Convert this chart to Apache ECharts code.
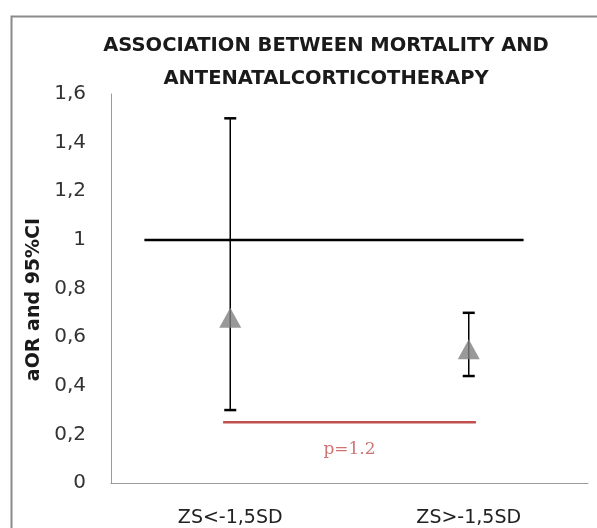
<!DOCTYPE html>
<html>
<head>
<meta charset="utf-8">
<script src="https://cdn.jsdelivr.net/npm/echarts@6/dist/echarts.min.js"></script>
<style>html,body{margin:0;padding:0;background:#fff}#c{width:597px;height:528px}</style>
</head>
<body>
<div id="c"></div>
<script>
// ---- data ----
const categories = ['ZS<-1,5SD', 'ZS>-1,5SD'];
const aOR = [0.68, 0.55];
const ciLow = [0.30, 0.44];
const ciHigh = [1.50, 0.70];
const yTicks = [0, 0.2, 0.4, 0.6, 0.8, 1, 1.2, 1.4, 1.6];
const refLineY = 1;
const refLineX = [-0.36, 1.23];
const pLineY = 0.25;
const pLineX = [-0.03, 1.03];
const pLabel = 'p=1.2';

const chart = echarts.init(document.getElementById('c'));
const FONT = 'DejaVu Sans';

chart.setOption({
  animation: false,
  backgroundColor: '#fff',
  title: {
    text: 'ASSOCIATION BETWEEN MORTALITY AND\nANTENATALCORTICOTHERAPY',
    left: 321, top: 24, textAlign: 'center',
    textStyle: { fontFamily: FONT, fontWeight: 'bold', fontSize: 19.5, lineHeight: 33, color: '#1a1a1a' }
  },
  graphic: [{
    type: 'rect', left: 9, top: 14, shape: { width: 620, height: 600 },
    style: { fill: 'none', stroke: '#8a8a8a', lineWidth: 2 }, silent: true, z: -1
  }],
  grid: { left: 111, right: 9, top: 94, bottom: 45 },
  xAxis: [{
    type: 'category', data: categories, boundaryGap: true,
    axisLine: { lineStyle: { color: '#9a9a9a', width: 1 } },
    axisTick: { show: false },
    axisLabel: { fontFamily: FONT, fontSize: 19, color: '#222', margin: 26 }
  }, {
    type: 'value', min: -0.5, max: 1.5, show: false
  }],
  yAxis: {
    type: 'value', min: yTicks[0], max: yTicks[yTicks.length - 1], interval: 0.2,
    name: 'aOR and 95%CI', nameLocation: 'middle', nameGap: 65,
    nameTextStyle: { fontFamily: FONT, fontWeight: 'bold', fontSize: 19, color: '#1a1a1a', padding: [0, 0, 0, -22] },
    axisLine: { show: true, onZero: false, lineStyle: { color: '#9a9a9a', width: 1 } },
    axisTick: { show: false },
    splitLine: { show: false },
    axisLabel: {
      fontFamily: FONT, fontSize: 20, color: '#333', margin: 25,
      formatter: v => String(+v.toFixed(1)).replace('.', ',')
    }
  },
  series: [{
    type: 'line', xAxisIndex: 1, symbol: 'none', silent: true,
    data: refLineX.map(x => [x, refLineY]),
    lineStyle: { color: '#000', width: 2.5 }
  }, {
    type: 'line', xAxisIndex: 1, symbol: 'none', silent: true,
    data: pLineX.map(x => [x, pLineY]),
    lineStyle: { color: '#C0504D', width: 2.5 }
  }, {
    type: 'scatter', xAxisIndex: 1, symbolSize: 0, silent: true,
    data: [[(pLineX[0] + pLineX[1]) / 2, pLineY]],
    label: { show: true, position: 'bottom', distance: 19, formatter: pLabel,
      fontFamily: 'DejaVu Serif', fontSize: 17, color: '#C0504D' }
  }, {
    type: 'custom', xAxisIndex: 1, silent: true,
    data: categories.map((c, i) => [i, ciLow[i], ciHigh[i]]),
    renderItem: (params, api) => {
      const lo = api.coord([api.value(0), api.value(1)]);
      const hi = api.coord([api.value(0), api.value(2)]);
      const w = 6;
      const st = { stroke: '#000', lineWidth: 1.5 };
      return { type: 'group', children: [
        { type: 'line', shape: { x1: lo[0], y1: lo[1], x2: hi[0], y2: hi[1] }, style: st },
        { type: 'line', shape: { x1: lo[0] - w, y1: lo[1], x2: lo[0] + w, y2: lo[1] }, style: { stroke: '#000', lineWidth: 2.5 } },
        { type: 'line', shape: { x1: hi[0] - w, y1: hi[1], x2: hi[0] + w, y2: hi[1] }, style: { stroke: '#000', lineWidth: 2.5 } }
      ]};
    }
  }, {
    type: 'scatter', xAxisIndex: 1, symbol: 'triangle', symbolSize: [22, 20], silent: true,
    data: aOR.map((v, i) => [i, v]),
    itemStyle: { color: '#808080' }, z: 5
  }]
});
</script>
</body>
</html>
